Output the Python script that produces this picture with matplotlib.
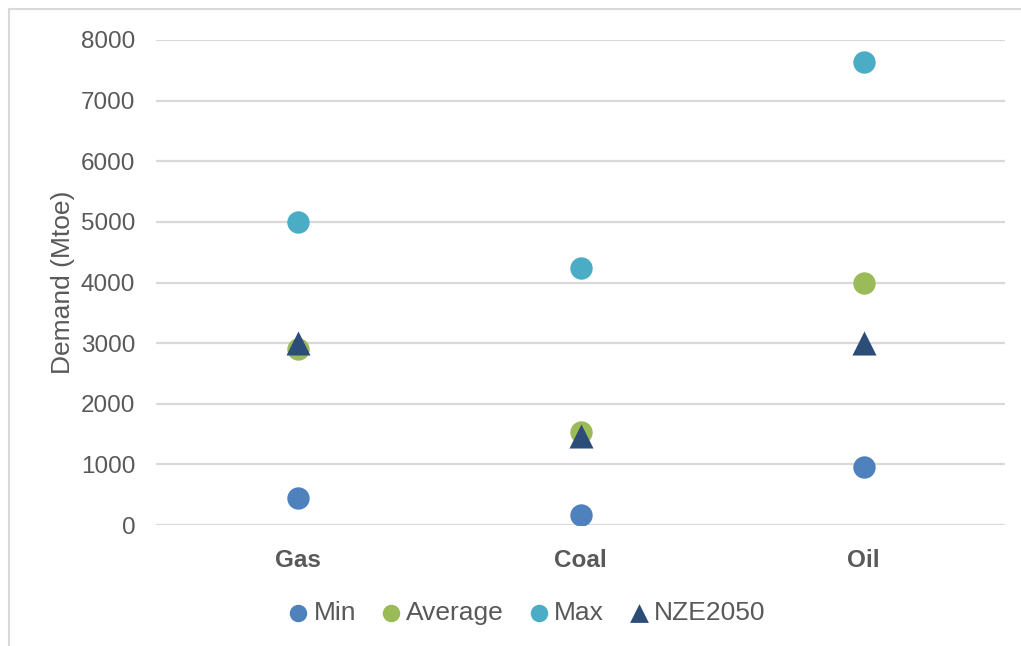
import matplotlib.pyplot as plt
from matplotlib.lines import Line2D

plt.rcParams['font.family'] = ['Liberation Sans', 'DejaVu Sans']

fuels = ['Gas', 'Coal', 'Oil']
demand_min = [440, 160, 955]
demand_avg = [2900, 1530, 3990]
demand_max = [5000, 4235, 7645]
demand_nze = [3010, 1460, 3010]

text_gray = '#595959'
grid_gray = '#d9d9d9'

fig = plt.figure(figsize=(10.21, 6.46), dpi=100)
ax = fig.add_axes([156 / 1021, 1 - 525 / 646, (1005 - 156) / 1021, (525 - 40) / 646])

x = range(len(fuels))
ax.scatter(x, demand_min, s=260, color='#4f81bd', label='Min', zorder=3, linewidths=0)
ax.scatter(x, demand_avg, s=260, color='#9bbb59', label='Average', zorder=3, linewidths=0)
ax.scatter(x, demand_max, s=260, color='#4bacc6', label='Max', zorder=3, linewidths=0)
ax.scatter(x, demand_nze, s=300, marker='^', color='#2c4d78', label='NZE2050', zorder=4, linewidths=0)

ax.set_xlim(-0.5, 2.5)
ax.set_ylim(0, 8000)
ax.set_yticks(range(0, 8001, 1000))
ax.set_xticks(list(x))
ax.set_xticklabels(fuels, fontweight='bold', fontsize=19)
ax.tick_params(axis='both', length=0, labelsize=17.5, colors=text_gray)
ax.tick_params(axis='x', pad=17)
ax.tick_params(axis='y', pad=15)
ax.grid(axis='y', color=grid_gray, linewidth=1.6)
ax.set_axisbelow(True)
for side in ['top', 'right', 'left', 'bottom']:
    ax.spines[side].set_visible(False)

ax.set_ylabel('Demand (Mtoe)', fontsize=19, color=text_gray, labelpad=4)

ax.legend(loc='upper center', bbox_to_anchor=(0.435, -0.108), ncol=4, frameon=False,
          fontsize=19, labelcolor=text_gray, handletextpad=0.1, columnspacing=0.8,
          handlelength=1.0, markerscale=0.78)

# outer chart frame
fig.add_artist(Line2D([9 / 1021, 1], [1 - 9 / 646, 1 - 9 / 646], color=grid_gray, linewidth=1.5))
fig.add_artist(Line2D([9 / 1021, 9 / 1021], [0, 1 - 9 / 646], color=grid_gray, linewidth=1.5))

fig.savefig('out.png', dpi=100)
